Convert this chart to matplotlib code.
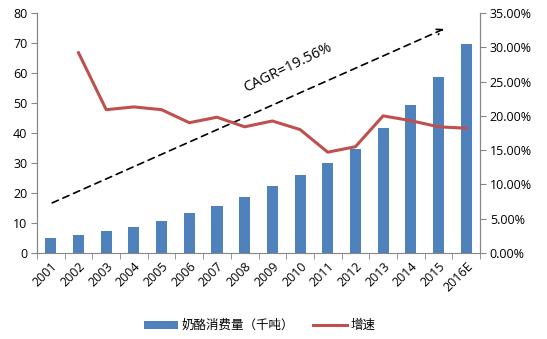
import matplotlib
matplotlib.use("Agg")
import matplotlib.pyplot as plt
from matplotlib.ticker import FuncFormatter, MultipleLocator, FixedLocator
import numpy as np

plt.rcParams['font.family'] = ['Open Sans', 'Noto Sans CJK SC', 'DejaVu Sans']

years = ['2001', '2002', '2003', '2004', '2005', '2006', '2007', '2008',
         '2009', '2010', '2011', '2012', '2013', '2014', '2015', '2016E']
consumption = [4.9, 6.1, 7.4, 8.8, 10.8, 13.2, 15.7, 18.5,
               22.2, 26.1, 29.9, 34.5, 41.5, 49.4, 58.8, 69.5]
growth = [None, 29.2, 20.9, 21.3, 20.9, 19.0, 19.8, 18.4,
          19.25, 18.0, 14.7, 15.5, 20.0, 19.3, 18.4, 18.2]
bar_label = '奶酪消费量（千吨）'
line_label = '增速'
cagr_text = 'CAGR=19.56%'

bar_color = '#4F81BD'
line_color = '#C0504D'
axis_color = '#868686'

fig = plt.figure(figsize=(5.47, 3.39), dpi=100)
ax = fig.add_axes([0.0676, 0.2537, 0.81, 0.708])
ax2 = ax.twinx()

x = np.arange(len(years))
ax.bar(x, consumption, width=0.4, color=bar_color, label=bar_label, zorder=2)

gx = [i for i, g in enumerate(growth) if g is not None]
gy = [g for g in growth if g is not None]
ax2.plot(gx, gy, color=line_color, lw=2.2, label=line_label, zorder=3)

ax.set_xlim(-0.5, len(years) - 0.5)
ax.set_ylim(0, 80)
ax2.set_ylim(0, 35)
ax.yaxis.set_major_locator(MultipleLocator(10))
ax2.yaxis.set_major_locator(MultipleLocator(5))
ax2.yaxis.set_major_formatter(FuncFormatter(lambda v, p: f'{v:.2f}%'))

ax.set_xticks(x)
ax.set_xticklabels(years, rotation=45, ha='right', rotation_mode='anchor')
ax.xaxis.set_minor_locator(FixedLocator(np.arange(-0.5, len(years), 1.0)))
ax.tick_params(axis='x', which='major', length=0, pad=5, labelsize=9)
ax.tick_params(axis='x', which='minor', length=4, color=axis_color, direction='out')
ax.tick_params(axis='y', length=4, color=axis_color, labelsize=9, pad=3)
ax2.tick_params(axis='y', length=4, color=axis_color, labelsize=9, pad=3)

for a in (ax, ax2):
    a.spines['top'].set_visible(False)
    for s in ('left', 'right', 'bottom'):
        a.spines[s].set_color(axis_color)
        a.spines[s].set_linewidth(0.8)
ax2.spines['bottom'].set_visible(False)

# CAGR trend arrow
ax.annotate('', xy=(14.2, 74.7), xytext=(0.05, 16.7),
            arrowprops=dict(arrowstyle='->', linestyle=(0, (4, 3)), color='black',
                            lw=1.2, shrinkA=0, shrinkB=0))
ax.text(8.56, 61.8, cagr_text, rotation=26, ha='center', va='center',
        fontsize=10.5, color='black')

h1, l1 = ax.get_legend_handles_labels()
h2, l2 = ax2.get_legend_handles_labels()
leg = fig.legend(h1 + h2, l1 + l2, loc='center', bbox_to_anchor=(0.475, 0.04),
                 ncol=2, frameon=False, fontsize=9, handlelength=2.7,
                 handleheight=0.6, columnspacing=1.5, handletextpad=0.3)

fig.savefig('out.png', dpi=100)
